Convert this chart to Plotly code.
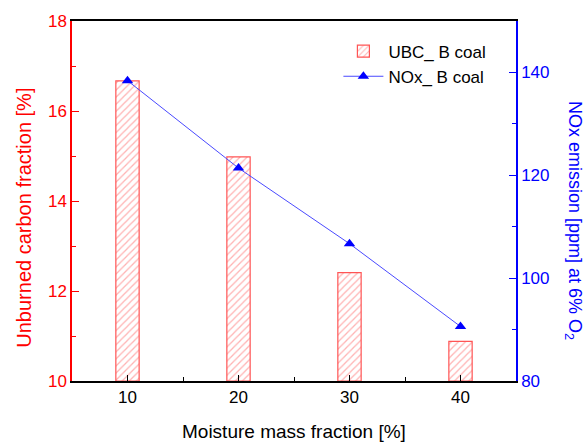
import plotly.graph_objects as go

# Moisture mass fraction [%]
moisture = [10, 20, 30, 40]
# Unburned carbon fraction [%]
ubc = [16.67, 14.98, 12.41, 10.88]
# NOx emission [ppm] at 6% O2
nox = [138.4, 121.4, 106.7, 90.6]

UBC_FLOOR = 10

RED = "#ff0000"
BLUE = "#0000ff"
FONT = "Arial, Liberation Sans, sans-serif"

fig = go.Figure()

# hatched bars rising from the bottom of the left axis
fig.add_trace(go.Bar(
    x=moisture, y=[v - UBC_FLOOR for v in ubc], base=UBC_FLOOR, width=2.1,
    name="UBC_ B coal",
    marker=dict(
        color="white",
        line=dict(color="#ff5555", width=1.2),
        pattern=dict(shape="/", fgcolor="#ff6666", bgcolor="white", size=5, solidity=0.25),
    ),
    yaxis="y",
))

fig.add_trace(go.Scatter(
    x=moisture, y=nox, mode="lines+markers",
    name="NOx_ B coal",
    line=dict(color="#4a4aff", width=1),
    marker=dict(symbol="triangle-up", size=10, color=BLUE),
    yaxis="y2",
))

fig.update_layout(
    width=587, height=448,
    margin=dict(l=72, r=71, t=15, b=67),
    paper_bgcolor="white", plot_bgcolor="white",
    font=dict(family=FONT, size=16, color="black"),
    showlegend=True,
    legend=dict(
        x=0.6, y=0.965, xanchor="left", yanchor="top",
        bgcolor="rgba(0,0,0,0)", font=dict(size=17, color="black"),
        itemwidth=40, tracegroupgap=0,
    ),
    xaxis=dict(
        range=[5, 45], tickvals=moisture, ticks="inside", ticklen=6, tickwidth=1.2,
        tickcolor="black",
        minor=dict(tickvals=[15, 25, 35], ticks="inside", ticklen=4, tickcolor="black"),
        showline=True, linecolor="black", linewidth=1.5, mirror=True,
        showgrid=False, zeroline=False,
        tickfont=dict(size=17, color="black"),
    ),
    yaxis=dict(
        range=[10, 18], tickvals=[10, 12, 14, 16, 18], ticks="inside", ticklen=7,
        tickcolor=RED, tickwidth=1.2,
        minor=dict(tickvals=[11, 13, 15, 17], ticks="inside", ticklen=4, tickcolor=RED),
        showline=True, linecolor=RED, linewidth=1.5,
        showgrid=False, zeroline=False,
        tickfont=dict(size=17, color=RED),
    ),
    yaxis2=dict(
        overlaying="y", side="right",
        range=[80, 150], tickvals=[80, 100, 120, 140], ticks="inside", ticklen=7,
        tickcolor=BLUE, tickwidth=1.2,
        minor=dict(tickvals=[90, 110, 130], ticks="inside", ticklen=4, tickcolor=BLUE),
        showline=True, linecolor=BLUE, linewidth=1.5,
        showgrid=False, zeroline=False,
        tickfont=dict(size=17, color=BLUE),
    ),
    annotations=[
        dict(text="Moisture mass fraction [%]", xref="paper", yref="paper",
             x=0.5, y=-0.14, xanchor="center", yanchor="middle", showarrow=False,
             font=dict(size=19, color="black")),
        dict(text="Unburned carbon fraction [%]", xref="paper", yref="paper",
             x=-0.107, y=0.455, xanchor="center", yanchor="middle", showarrow=False,
             textangle=-90, font=dict(size=20, color=RED)),
        dict(text="NOx emission [ppm] at 6% O<sub>2</sub>", xref="paper", yref="paper",
             x=1.128, y=0.445, xanchor="center", yanchor="middle", showarrow=False,
             textangle=90, font=dict(size=18, color=BLUE)),
    ],
)

fig.write_html("out.html")
